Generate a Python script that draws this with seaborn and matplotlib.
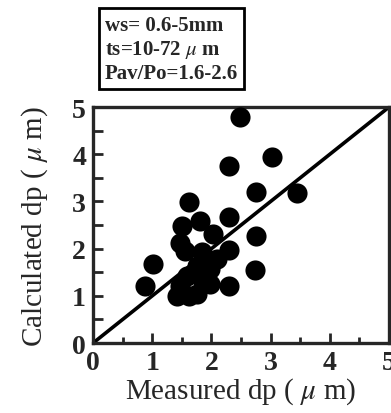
import matplotlib
matplotlib.use("Agg")
import matplotlib.pyplot as plt
import seaborn as sns
import pandas as pd
from matplotlib.ticker import MultipleLocator

measured = [2.48, 3.02, 2.30, 2.76, 3.44, 1.62, 2.30, 2.76, 2.74,
            1.50, 1.81, 2.03, 1.47, 1.55, 1.84, 2.30, 2.09, 1.75, 1.98,
            1.58, 1.86, 1.47, 1.41, 1.75, 1.98, 1.02, 0.88, 2.29, 1.62]
calculated = [4.78, 3.95, 3.76, 3.19, 3.18, 2.99, 2.68, 2.27, 1.55,
              2.49, 2.59, 2.31, 2.13, 1.96, 1.92, 1.97, 1.78, 1.64, 1.57,
              1.43, 1.32, 1.21, 1.00, 1.04, 1.25, 1.67, 1.21, 1.21, 1.00]
ticks = [0, 1, 2, 3, 4, 5]
info_lines = ["ws= 0.6-5mm", "ts=10-72 $\\mu$ m", "Pav/Po=1.6-2.6"]

sns.set_style("ticks")
plt.rcParams['font.family'] = ['Liberation Serif', 'DejaVu Serif']
plt.rcParams['mathtext.fontset'] = 'stix'

df = pd.DataFrame({"Measured": measured, "Calculated": calculated})

fig = plt.figure(figsize=(3.91, 4.14), dpi=100)
ax = fig.add_axes([0.238, 0.169, 0.757, 0.570])
sns.scatterplot(data=df, x="Measured", y="Calculated", ax=ax, s=210,
                color="black", edgecolor="black", linewidth=0, zorder=3)
sns.lineplot(x=[0, 5], y=[0, 5], ax=ax, color="black", linewidth=2.6, zorder=2)

ax.set_xlim(0, 5)
ax.set_ylim(0, 5)
ax.set_xticks(ticks)
ax.set_yticks(ticks)
ax.xaxis.set_minor_locator(MultipleLocator(0.5))
ax.yaxis.set_minor_locator(MultipleLocator(0.5))
ax.tick_params(which="major", direction="in", length=7, width=2,
               labelsize=20, pad=5)
ax.tick_params(which="minor", direction="in", length=4, width=2)
ax.tick_params(axis="y", which="minor", length=7)
for lab in ax.get_xticklabels() + ax.get_yticklabels():
    lab.set_fontweight("bold")
for sp in ax.spines.values():
    sp.set_linewidth(2.4)
    sp.set_visible(True)

ax.set_xlabel("Measured dp ( $\\mu$ m)", fontsize=21, labelpad=0)
ax.set_ylabel("Calculated dp ( $\\mu$ m)", fontsize=21, labelpad=16)

fig.text(0.268, 0.88, "\n".join(info_lines), fontsize=15, fontweight="bold",
         ha="left", va="center", linespacing=1.2,
         bbox=dict(boxstyle="square,pad=0.3", facecolor="white",
                   edgecolor="black", linewidth=2))

fig.savefig("out.png", dpi=100)
